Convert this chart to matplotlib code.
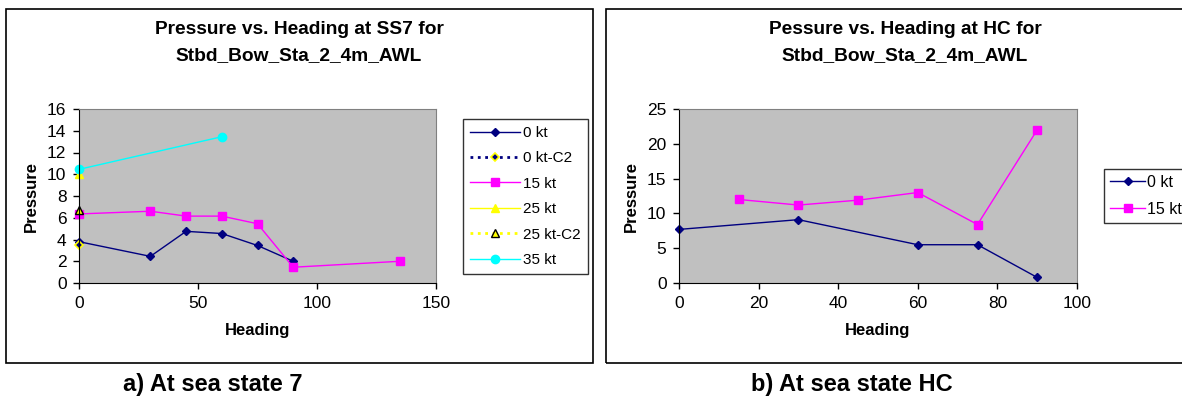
import matplotlib
matplotlib.use('Agg')
import matplotlib.pyplot as plt
from matplotlib.patches import Rectangle

plt.rcParams['font.family'] = ['Liberation Sans', 'DejaVu Sans']

# sea state 7
ss7_0kt_x = [0, 30, 45, 60, 75, 90]
ss7_0kt_y = [3.8, 2.45, 4.75, 4.55, 3.45, 2.0]
ss7_0kt_c2_x = [0]
ss7_0kt_c2_y = [3.45]
ss7_15kt_x = [0, 30, 45, 60, 75, 90, 135]
ss7_15kt_y = [6.35, 6.6, 6.15, 6.15, 5.45, 1.45, 2.0]
ss7_25kt_x = [0]
ss7_25kt_y = [10.0]
ss7_25kt_c2_x = [0]
ss7_25kt_c2_y = [6.7]
ss7_35kt_x = [0, 60]
ss7_35kt_y = [10.45, 13.45]

# sea state HC
hc_0kt_x = [0, 30, 60, 75, 90]
hc_0kt_y = [7.7, 9.1, 5.5, 5.5, 0.8]
hc_15kt_x = [15, 30, 45, 60, 75, 90]
hc_15kt_y = [12.0, 11.2, 11.9, 13.0, 8.4, 22.0]

W, H = 1182, 398
fig = plt.figure(figsize=(W / 100, H / 100), dpi=100)


def px_axes(x0, y0, x1, y1):
    return fig.add_axes([x0 / W, 1 - y1 / H, (x1 - x0) / W, (y1 - y0) / H])


def frame(x0, y0, x1, y1):
    fig.patches.append(Rectangle((x0 / W, 1 - y1 / H), (x1 - x0) / W, (y1 - y0) / H,
                                 transform=fig.transFigure, fill=False,
                                 edgecolor='black', linewidth=1.2))


def style(ax):
    ax.set_facecolor('#c0c0c0')
    for s in ['top', 'right']:
        ax.spines[s].set_color('#808080')
    for s in ['left', 'bottom']:
        ax.spines[s].set_color('black')
    ax.tick_params(direction='out', length=4, width=1, labelsize=12.5, pad=5)
    ax.set_xlabel('Heading', fontsize=12, fontweight='bold', labelpad=9)
    ax.set_ylabel('Pressure', fontsize=12, fontweight='bold', labelpad=6)


frame(6, 9, 593, 363)
frame(606, 9, 1200, 363)

navy = '#000080'
mag = '#ff00ff'

# left chart
ax1 = px_axes(79, 109, 436, 283)
style(ax1)
ax1.plot(ss7_0kt_x, ss7_0kt_y, color=navy, lw=1, marker='D', ms=4, label='0 kt')
ax1.plot(ss7_0kt_c2_x, ss7_0kt_c2_y, color=navy, lw=2, ls=':', marker='D', ms=4.5,
         mfc=navy, mec='yellow', mew=1.2, label='0 kt-C2')
ax1.plot(ss7_15kt_x, ss7_15kt_y, color=mag, lw=1, marker='s', ms=6, label='15 kt')
ax1.plot(ss7_25kt_x, ss7_25kt_y, color='yellow', lw=1, marker='^', ms=6, label='25 kt')
ax1.plot(ss7_25kt_c2_x, ss7_25kt_c2_y, color='yellow', lw=2, ls=':', marker='^', ms=6,
         mfc='yellow', mec='black', mew=1, label='25 kt-C2')
ax1.plot(ss7_35kt_x, ss7_35kt_y, color='cyan', lw=1, marker='o', ms=6, label='35 kt')
ax1.set_xlim(0, 150)
ax1.set_ylim(0, 16)
ax1.set_xticks([0, 50, 100, 150])
ax1.set_yticks(range(0, 17, 2))
for ln in ax1.lines:
    ln.set_clip_on(False)
leg1 = ax1.legend(loc='upper left', bbox_to_anchor=(463 / W, 1 - 119 / H),
                  bbox_transform=fig.transFigure, fontsize=11, frameon=True,
                  fancybox=False, edgecolor='black', borderpad=0.45,
                  labelspacing=0.75, handlelength=3.25, handletextpad=0.25,
                  borderaxespad=0)
leg1.get_frame().set_linewidth(1)

# right chart
ax2 = px_axes(679, 109, 1077, 283)
style(ax2)
ax2.plot(hc_0kt_x, hc_0kt_y, color=navy, lw=1, marker='D', ms=4, label='0 kt')
ax2.plot(hc_15kt_x, hc_15kt_y, color=mag, lw=1, marker='s', ms=6, label='15 kt')
ax2.set_xlim(0, 100)
ax2.set_ylim(0, 25)
ax2.set_xticks(range(0, 101, 20))
ax2.set_yticks(range(0, 26, 5))
for ln in ax2.lines:
    ln.set_clip_on(False)
leg2 = ax2.legend(loc='upper left', bbox_to_anchor=(1104 / W, 1 - 169 / H),
                  bbox_transform=fig.transFigure, fontsize=11.5, frameon=True,
                  fancybox=False, edgecolor='black', borderpad=0.38,
                  labelspacing=0.72, handlelength=2.2, handletextpad=0.1,
                  borderaxespad=0)
leg2.get_frame().set_linewidth(1)

# titles
fig.text(299 / W, 1 - 43 / H, 'Pressure vs. Heading at SS7 for\nStbd_Bow_Sta_2_4m_AWL',
         ha='center', va='center', fontsize=13.8, fontweight='bold', linespacing=1.7)
fig.text(905 / W, 1 - 43 / H, 'Pessure vs. Heading at HC for\nStbd_Bow_Sta_2_4m_AWL',
         ha='center', va='center', fontsize=13.8, fontweight='bold', linespacing=1.7)

# captions
fig.text(213 / W, 1 - 384 / H, 'a) At sea state 7', ha='center', va='center',
         fontsize=17, fontweight='bold')
fig.text(852 / W, 1 - 384 / H, 'b) At sea state HC', ha='center', va='center',
         fontsize=17, fontweight='bold')

fig.savefig('out.png', dpi=100)
